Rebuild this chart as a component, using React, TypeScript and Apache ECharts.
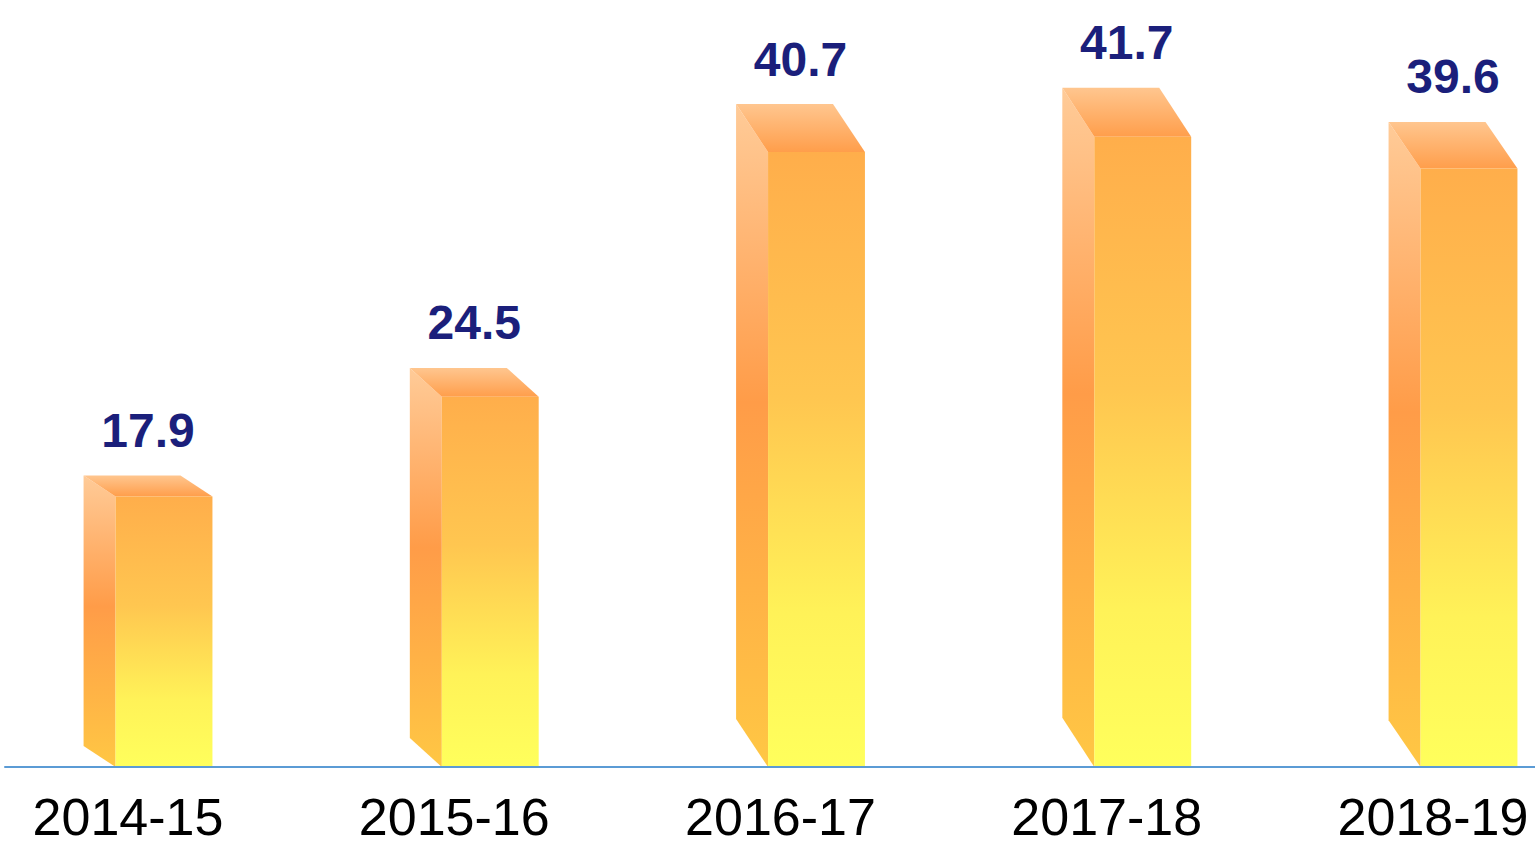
import React, { useEffect, useRef } from "react";
import * as echarts from "echarts";

const categories = ["2014-15", "2015-16", "2016-17", "2017-18", "2018-19"];
const values = [17.9, 24.5, 40.7, 41.7, 39.6];

const FONT = 'Arial, "Liberation Sans", sans-serif';

export default function App() {
  const ref = useRef<HTMLDivElement>(null);
  useEffect(() => {
    const chart = echarts.init(ref.current!, null, { renderer: "svg" });
    const frontGrad = new echarts.graphic.LinearGradient(0, 0, 0, 1, [
      { offset: 0, color: "#FFAE4B" },
      { offset: 0.4, color: "#FFC650" },
      { offset: 0.75, color: "#FFF258" },
      { offset: 1, color: "#FFFF5C" },
    ]);
    const sideGrad = new echarts.graphic.LinearGradient(0, 0, 0, 1, [
      { offset: 0, color: "#FFCB98" },
      { offset: 0.45, color: "#FF9C48" },
      { offset: 1, color: "#FFC744" },
    ]);
    const topGrad = new echarts.graphic.LinearGradient(0, 0, 0, 1, [
      { offset: 0, color: "#FFC68F" },
      { offset: 1, color: "#FF9E4B" },
    ]);

    const renderItem = (params: any, api: any) => {
      const idx = api.value(0);
      const v = api.value(1);
      const top = api.coord([idx, v]);
      const base = api.coord([idx, 0]);
      const step = api.size([1, 0])[0];
      const fw = step * 0.297;
      const depth = step * 0.098;
      const cx = top[0];
      const fl = cx - fw / 2;
      const fr = cx + fw / 2;
      const h = base[1] - top[1];
      const dy = h * 0.078;
      return {
        type: "group",
        children: [
          {
            type: "polygon",
            shape: {
              points: [
                [fl - depth, top[1] - dy],
                [fl, top[1]],
                [fl, base[1]],
                [fl - depth, base[1] - dy],
              ],
            },
            style: { fill: sideGrad },
          },
          {
            type: "polygon",
            shape: {
              points: [
                [fl - depth, top[1] - dy],
                [fr - depth, top[1] - dy],
                [fr, top[1]],
                [fl, top[1]],
              ],
            },
            style: { fill: topGrad },
          },
          {
            type: "rect",
            shape: { x: fl, y: top[1], width: fw, height: h },
            style: { fill: frontGrad },
          },
          {
            type: "text",
            x: cx - depth / 2,
            y: top[1] - dy - 45,
            style: {
              text: String(v),
              fill: "#1B1F7B",
              font: `bold 48px ${FONT}`,
              align: "center",
              verticalAlign: "middle",
            },
          },
        ],
      };
    };

    chart.setOption({
      animation: false,
      backgroundColor: "#ffffff",
      grid: [
        { left: 164, right: 66, top: 87, bottom: 78, outerBoundsMode: "none", containLabel: false },
        { left: 5, right: 0, top: 87, bottom: 78, outerBoundsMode: "none", containLabel: false },
      ],
      xAxis: [
        {
          type: "category",
          gridIndex: 0,
          data: categories,
          boundaryGap: false,
          axisLine: { show: false },
          axisTick: { show: false },
          axisLabel: {
            color: "#000000",
            fontSize: 52,
            fontFamily: FONT,
            lineHeight: 44,
            margin: 28,
            padding: [0, 72, 0, 0],
            interval: 0,
          },
        },
        {
          type: "category",
          gridIndex: 1,
          data: [""],
          z: 5,
          axisLine: { lineStyle: { color: "#5B9BD5", width: 2 } },
          axisTick: { show: false },
          axisLabel: { show: false },
        },
      ],
      yAxis: [
        { type: "value", gridIndex: 0, min: 0, max: 45, show: false, splitLine: { show: false } },
        { type: "value", gridIndex: 1, min: 0, max: 45, show: false, splitLine: { show: false } },
      ],
      series: [
        {
          type: "custom",
          xAxisIndex: 0,
          yAxisIndex: 0,
          data: values.map((v, i) => [i, v]),
          encode: { x: 0, y: 1 },
          renderItem,
          clip: false,
        },
      ],
    });
    return () => chart.dispose();
  }, []);
  return (
    <div
      ref={ref}
      style={{ position: "fixed", left: 0, top: 0, width: 1535, height: 845, background: "#fff" }}
    />
  );
}
